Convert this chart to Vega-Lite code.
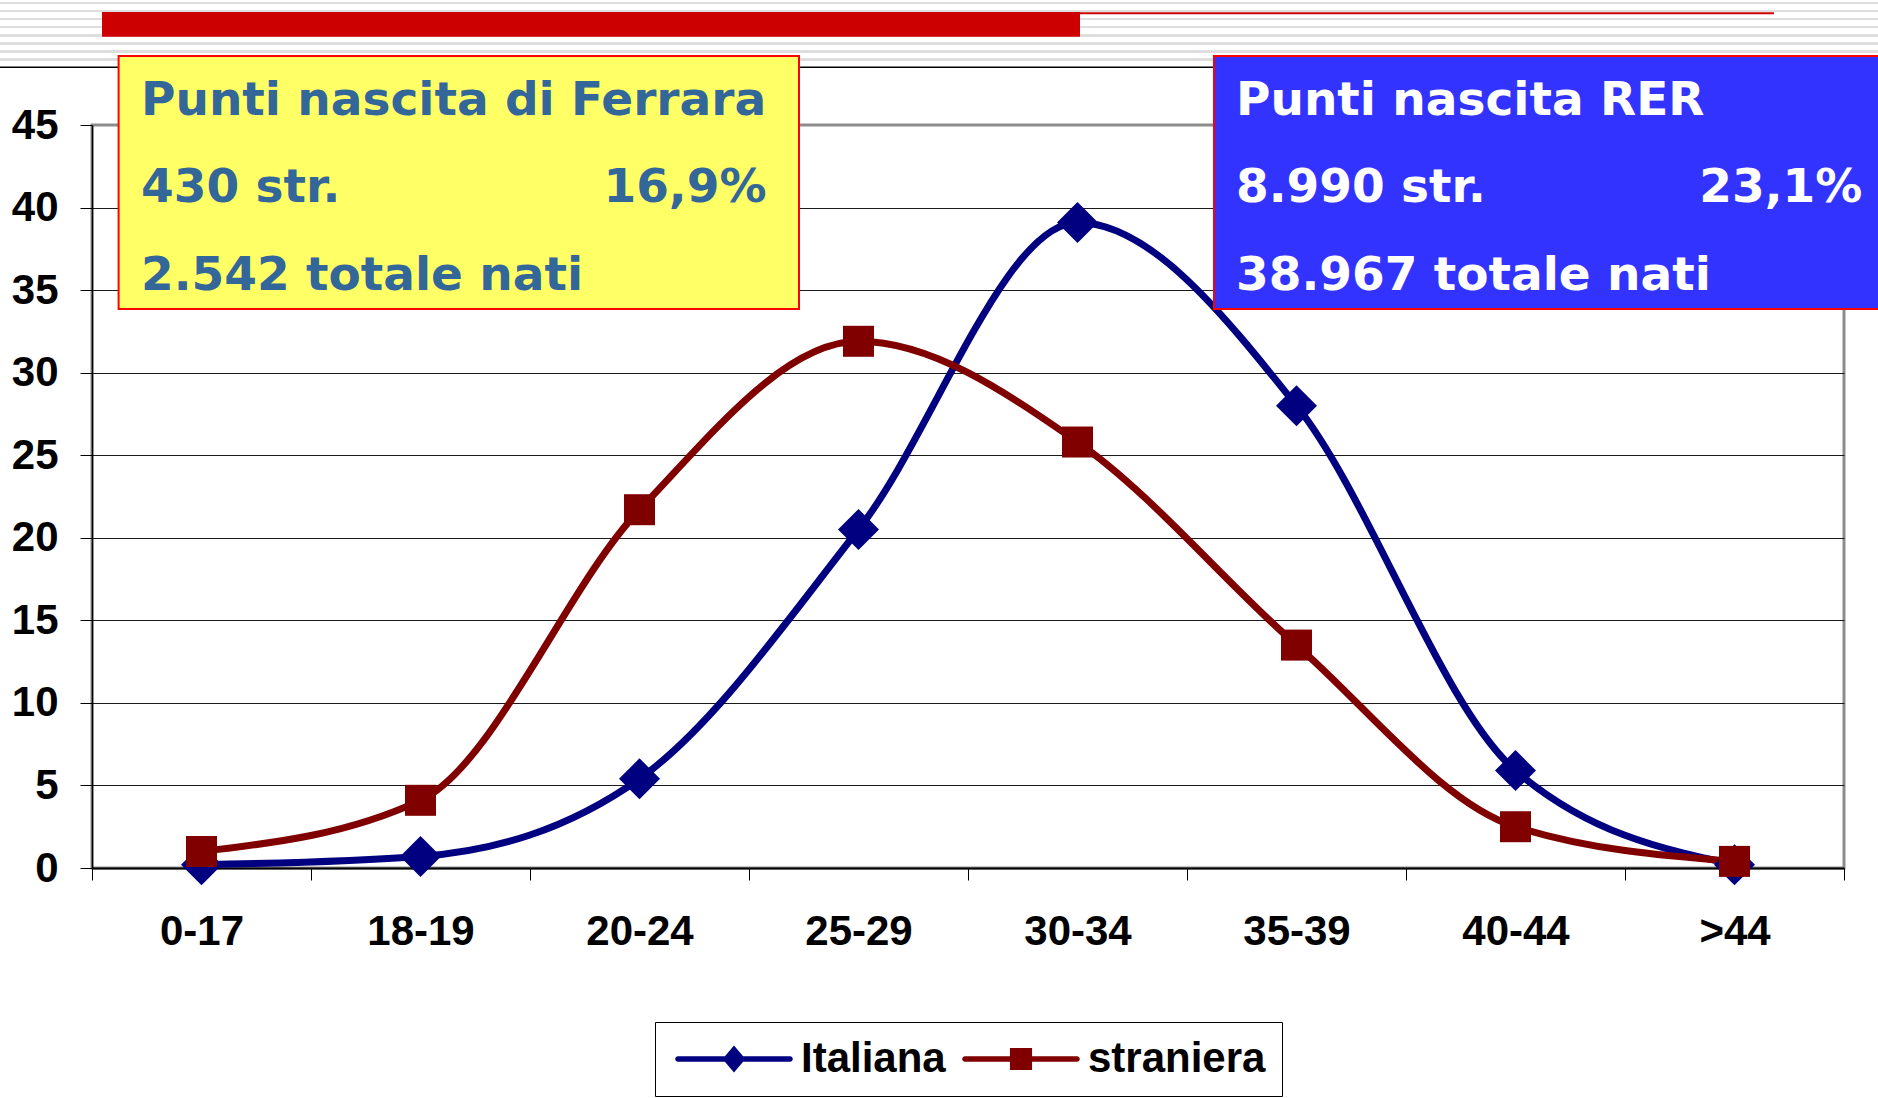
{
  "$schema": "https://vega.github.io/schema/vega-lite/v6.json",
  "width": 1752,
  "height": 743,
  "autosize": "none",
  "padding": {"left": 92, "top": 125, "right": 34, "bottom": 230},
  "background": "white",
  "config": {
    "view": {"stroke": "#8C8C8C", "strokeWidth": 3},
    "font": "Liberation Sans",
    "legend": {"layout": {"bottom": {"anchor": "middle"}}}
  },
  "data": {
    "values": [
      {"age": "0-17", "series": "Italiana", "value": 0.2},
      {"age": "18-19", "series": "Italiana", "value": 0.7},
      {"age": "20-24", "series": "Italiana", "value": 5.4},
      {"age": "25-29", "series": "Italiana", "value": 20.5},
      {"age": "30-34", "series": "Italiana", "value": 39.1},
      {"age": "35-39", "series": "Italiana", "value": 28.0},
      {"age": "40-44", "series": "Italiana", "value": 5.9},
      {"age": ">44", "series": "Italiana", "value": 0.2},
      {"age": "0-17", "series": "straniera", "value": 1.0},
      {"age": "18-19", "series": "straniera", "value": 4.1},
      {"age": "20-24", "series": "straniera", "value": 21.7},
      {"age": "25-29", "series": "straniera", "value": 31.9},
      {"age": "30-34", "series": "straniera", "value": 25.8},
      {"age": "35-39", "series": "straniera", "value": 13.5},
      {"age": "40-44", "series": "straniera", "value": 2.5},
      {"age": ">44", "series": "straniera", "value": 0.4}
    ]
  },
  "resolve": {"scale": {"x": "independent", "y": "independent"}},
  "layer": [
    {
      "encoding": {
        "x": {
          "field": "age", "type": "ordinal", "sort": null,
          "scale": {"type": "band", "paddingInner": 0, "paddingOuter": 0},
          "axis": {
            "title": null, "tickBand": "extent", "tickSize": 12, "tickColor": "black", "tickWidth": 1,
            "domainColor": "black", "domainWidth": 2,
            "labelFont": "Liberation Sans", "labelFontSize": 42, "labelFontWeight": "bold",
            "labelColor": "black", "labelPadding": 31, "labelAngle": 0, "grid": false
          }
        },
        "y": {
          "field": "value", "type": "quantitative",
          "scale": {"domain": [0, 45], "nice": false},
          "axis": {
            "title": null, "values": [0, 5, 10, 15, 20, 25, 30, 35, 40, 45],
            "tickSize": 12, "tickColor": "black", "tickWidth": 1,
            "domainColor": "black", "domainWidth": 1.5,
            "labelFont": "Liberation Sans", "labelFontSize": 42, "labelFontWeight": "bold",
            "labelColor": "black", "labelPadding": 22,
            "grid": true,
            "gridColor": {"condition": {"test": "datum.value >= 45", "value": "#8C8C8C"}, "value": "#1a1a1a"},
            "gridWidth": 1
          }
        }
      },
      "layer": [
        {
          "mark": {"type": "line", "interpolate": "monotone", "strokeWidth": 7, "clip": false},
          "encoding": {
            "stroke": {
              "field": "series", "type": "nominal",
              "scale": {"range": ["#000080", "#800000"]},
              "legend": null
            }
          }
        },
        {
          "transform": [{"filter": "datum.series === 'Italiana'"}],
          "mark": {"type": "point", "shape": "diamond", "filled": true, "size": 1681, "opacity": 1, "clip": false},
          "encoding": {
            "fill": {
              "field": "series", "type": "nominal",
              "scale": {"range": ["#000080", "#800000"]},
              "legend": null
            }
          }
        },
        {
          "transform": [{"filter": "datum.series === 'straniera'"}],
          "mark": {"type": "point", "shape": "square", "filled": true, "size": 961, "opacity": 1, "clip": false},
          "encoding": {
            "fill": {
              "field": "series", "type": "nominal",
              "scale": {"range": ["#000080", "#800000"]},
              "legend": null
            }
          }
        },
        {
          "transform": [{"filter": "false"}],
          "mark": {"type": "point", "filled": true, "size": 784, "opacity": 1},
          "encoding": {
            "color": {
              "field": "series", "type": "nominal",
              "scale": {"domain": ["Italiana", "straniera"], "range": ["#000080", "#800000"]},
              "legend": {
                "orient": "bottom", "direction": "horizontal", "title": null,
                "labelFont": "Liberation Sans", "labelFontSize": 42, "labelFontWeight": "bold",
                "labelColor": "black", "labelLimit": 0,
                "symbolSize": 784, "symbolOffset": 42, "labelOffset": 46, "columnPadding": 12,
                "padding": 16, "strokeColor": "black", "fillColor": "white", "offset": 70,
                "symbolStrokeWidth": 0, "symbolOpacity": 1
              }
            },
            "shape": {
              "field": "series", "type": "nominal",
              "scale": {
                "domain": ["Italiana", "straniera"],
                "range": [
                  "M-4,-0.2H-0.65L0,-0.96L0.65,-0.2H4A0.2,0.2,0,0,1,4,0.2H0.65L0,0.96L-0.65,0.2H-4A0.2,0.2,0,0,1,-4,-0.2Z",
                  "M-4,-0.2H-0.79V-0.79H0.79V-0.2H4A0.2,0.2,0,0,1,4,0.2H0.79V0.79H-0.79V0.2H-4A0.2,0.2,0,0,1,-4,-0.2Z"
                ]
              },
              "legend": {
                "orient": "bottom", "direction": "horizontal", "title": null,
                "labelFont": "Liberation Sans", "labelFontSize": 42, "labelFontWeight": "bold",
                "labelColor": "black", "labelLimit": 0,
                "symbolSize": 784, "symbolOffset": 42, "labelOffset": 46, "columnPadding": 12,
                "padding": 16, "strokeColor": "black", "fillColor": "white", "offset": 70,
                "symbolStrokeWidth": 0, "symbolOpacity": 1
              }
            }
          }
        }
      ]
    },
    {
      "data": {"values": [{}]},
      "layer": [
        {
          "mark": {
            "type": "rect", "clip": false,
            "fill": {
              "gradient": "linear", "x1": 0, "y1": 0, "x2": 0, "y2": 1,
              "stops": [
                {"offset": 0, "color": "#FFFFFF"},
                {"offset": 0.0328, "color": "#FFFFFF"}, {"offset": 0.0328, "color": "#DEDEDE"}, {"offset": 0.0703, "color": "#DEDEDE"}, {"offset": 0.0703, "color": "#FFFFFF"},
                {"offset": 0.1578, "color": "#FFFFFF"}, {"offset": 0.1578, "color": "#DEDEDE"}, {"offset": 0.1953, "color": "#DEDEDE"}, {"offset": 0.1953, "color": "#FFFFFF"},
                {"offset": 0.2828, "color": "#FFFFFF"}, {"offset": 0.2828, "color": "#DEDEDE"}, {"offset": 0.3203, "color": "#DEDEDE"}, {"offset": 0.3203, "color": "#FFFFFF"},
                {"offset": 0.4078, "color": "#FFFFFF"}, {"offset": 0.4078, "color": "#DEDEDE"}, {"offset": 0.4453, "color": "#DEDEDE"}, {"offset": 0.4453, "color": "#FFFFFF"},
                {"offset": 0.5328, "color": "#FFFFFF"}, {"offset": 0.5328, "color": "#DEDEDE"}, {"offset": 0.5703, "color": "#DEDEDE"}, {"offset": 0.5703, "color": "#FFFFFF"},
                {"offset": 0.6578, "color": "#FFFFFF"}, {"offset": 0.6578, "color": "#DEDEDE"}, {"offset": 0.6953, "color": "#DEDEDE"}, {"offset": 0.6953, "color": "#FFFFFF"},
                {"offset": 0.7828, "color": "#FFFFFF"}, {"offset": 0.7828, "color": "#DEDEDE"}, {"offset": 0.8203, "color": "#DEDEDE"}, {"offset": 0.8203, "color": "#FFFFFF"},
                {"offset": 0.9078, "color": "#FFFFFF"}, {"offset": 0.9078, "color": "#DEDEDE"}, {"offset": 0.9453, "color": "#DEDEDE"}, {"offset": 0.9453, "color": "#FFFFFF"},
                {"offset": 1, "color": "#FFFFFF"}
              ]
            }
          },
          "encoding": {
            "x": {"datum": -0.4201, "type": "quantitative", "scale": {"domain": [0, 8], "nice": false, "zero": false}, "axis": null},
            "x2": {"datum": 8.1553},
            "y": {"datum": 52.571, "type": "quantitative", "scale": {"domain": [0, 45], "nice": false, "zero": false}, "axis": null},
            "y2": {"datum": 48.694}
          }
        },
        {
          "mark": {"type": "rect", "clip": false, "fill": "#CC0000"},
          "encoding": {
            "x": {"datum": 0.0457, "type": "quantitative", "scale": {"domain": [0, 8], "nice": false, "zero": false}, "axis": null},
            "x2": {"datum": 4.5114},
            "y": {"datum": 51.844, "type": "quantitative", "scale": {"domain": [0, 45], "nice": false, "zero": false}, "axis": null},
            "y2": {"datum": 50.348}
          }
        },
        {
          "mark": {"type": "rule", "clip": false, "stroke": "#CC0000", "strokeWidth": 2},
          "encoding": {
            "x": {"datum": 4.5114, "type": "quantitative", "scale": {"domain": [0, 8], "nice": false, "zero": false}, "axis": null},
            "x2": {"datum": 7.6804},
            "y": {"datum": 51.77, "type": "quantitative", "scale": {"domain": [0, 45], "nice": false, "zero": false}, "axis": null}
          }
        },
        {
          "mark": {"type": "rule", "clip": false, "stroke": "#000000", "strokeWidth": 1.5},
          "encoding": {
            "x": {"datum": -0.4201, "type": "quantitative", "scale": {"domain": [0, 8], "nice": false, "zero": false}, "axis": null},
            "x2": {"datum": 8.1553},
            "y": {"datum": 48.495, "type": "quantitative", "scale": {"domain": [0, 45], "nice": false, "zero": false}, "axis": null}
          }
        },
        {
          "mark": {"type": "rect", "clip": false, "fill": "#FFFF66", "stroke": "#FF0000", "strokeWidth": 2},
          "encoding": {
            "x": {"datum": 0.1215, "type": "quantitative", "scale": {"domain": [0, 8], "nice": false, "zero": false}, "axis": null},
            "x2": {"datum": 3.2283},
            "y": {"datum": 49.179, "type": "quantitative", "scale": {"domain": [0, 45], "nice": false, "zero": false}, "axis": null},
            "y2": {"datum": 33.856}
          }
        },
        {
          "mark": {"type": "rect", "clip": false, "fill": "#3333FF", "stroke": "#FF0000", "strokeWidth": 2},
          "encoding": {
            "x": {"datum": 5.1233, "type": "quantitative", "scale": {"domain": [0, 8], "nice": false, "zero": false}, "axis": null},
            "x2": {"datum": 8.17},
            "y": {"datum": 49.179, "type": "quantitative", "scale": {"domain": [0, 45], "nice": false, "zero": false}, "axis": null},
            "y2": {"datum": 33.856}
          }
        },
        {
          "mark": {"type": "text", "clip": false, "text": "Punti nascita di Ferrara", "align": "left", "baseline": "alphabetic", "font": "DejaVu Sans", "fontWeight": "bold", "fontSize": 47, "fill": "#336699"},
          "encoding": {
            "x": {"datum": 0.2237, "type": "quantitative", "scale": {"domain": [0, 8], "nice": false, "zero": false}, "axis": null},
            "y": {"datum": 45.606, "type": "quantitative", "scale": {"domain": [0, 45], "nice": false, "zero": false}, "axis": null}
          }
        },
        {
          "mark": {"type": "text", "clip": false, "text": "430 str.", "align": "left", "baseline": "alphabetic", "font": "DejaVu Sans", "fontWeight": "bold", "fontSize": 47, "fill": "#336699"},
          "encoding": {
            "x": {"datum": 0.2237, "type": "quantitative", "scale": {"domain": [0, 8], "nice": false, "zero": false}, "axis": null},
            "y": {"datum": 40.312, "type": "quantitative", "scale": {"domain": [0, 45], "nice": false, "zero": false}, "axis": null}
          }
        },
        {
          "mark": {"type": "text", "clip": false, "text": "16,9%", "align": "right", "baseline": "alphabetic", "font": "DejaVu Sans", "fontWeight": "bold", "fontSize": 47, "fill": "#336699"},
          "encoding": {
            "x": {"datum": 3.0799, "type": "quantitative", "scale": {"domain": [0, 8], "nice": false, "zero": false}, "axis": null},
            "y": {"datum": 40.312, "type": "quantitative", "scale": {"domain": [0, 45], "nice": false, "zero": false}, "axis": null}
          }
        },
        {
          "mark": {"type": "text", "clip": false, "text": "2.542 totale nati", "align": "left", "baseline": "alphabetic", "font": "DejaVu Sans", "fontWeight": "bold", "fontSize": 47, "fill": "#336699"},
          "encoding": {
            "x": {"datum": 0.2237, "type": "quantitative", "scale": {"domain": [0, 8], "nice": false, "zero": false}, "axis": null},
            "y": {"datum": 35.007, "type": "quantitative", "scale": {"domain": [0, 45], "nice": false, "zero": false}, "axis": null}
          }
        },
        {
          "mark": {"type": "text", "clip": false, "text": "Punti nascita RER", "align": "left", "baseline": "alphabetic", "font": "DejaVu Sans", "fontWeight": "bold", "fontSize": 47, "fill": "#FFFFFF"},
          "encoding": {
            "x": {"datum": 5.2237, "type": "quantitative", "scale": {"domain": [0, 8], "nice": false, "zero": false}, "axis": null},
            "y": {"datum": 45.606, "type": "quantitative", "scale": {"domain": [0, 45], "nice": false, "zero": false}, "axis": null}
          }
        },
        {
          "mark": {"type": "text", "clip": false, "text": "8.990 str.", "align": "left", "baseline": "alphabetic", "font": "DejaVu Sans", "fontWeight": "bold", "fontSize": 47, "fill": "#FFFFFF"},
          "encoding": {
            "x": {"datum": 5.2237, "type": "quantitative", "scale": {"domain": [0, 8], "nice": false, "zero": false}, "axis": null},
            "y": {"datum": 40.312, "type": "quantitative", "scale": {"domain": [0, 45], "nice": false, "zero": false}, "axis": null}
          }
        },
        {
          "mark": {"type": "text", "clip": false, "text": "23,1%", "align": "right", "baseline": "alphabetic", "font": "DejaVu Sans", "fontWeight": "bold", "fontSize": 47, "fill": "#FFFFFF"},
          "encoding": {
            "x": {"datum": 8.084, "type": "quantitative", "scale": {"domain": [0, 8], "nice": false, "zero": false}, "axis": null},
            "y": {"datum": 40.312, "type": "quantitative", "scale": {"domain": [0, 45], "nice": false, "zero": false}, "axis": null}
          }
        },
        {
          "mark": {"type": "text", "clip": false, "text": "38.967 totale nati", "align": "left", "baseline": "alphabetic", "font": "DejaVu Sans", "fontWeight": "bold", "fontSize": 47, "fill": "#FFFFFF"},
          "encoding": {
            "x": {"datum": 5.2237, "type": "quantitative", "scale": {"domain": [0, 8], "nice": false, "zero": false}, "axis": null},
            "y": {"datum": 35.007, "type": "quantitative", "scale": {"domain": [0, 45], "nice": false, "zero": false}, "axis": null}
          }
        }
      ]
    }
  ]
}
